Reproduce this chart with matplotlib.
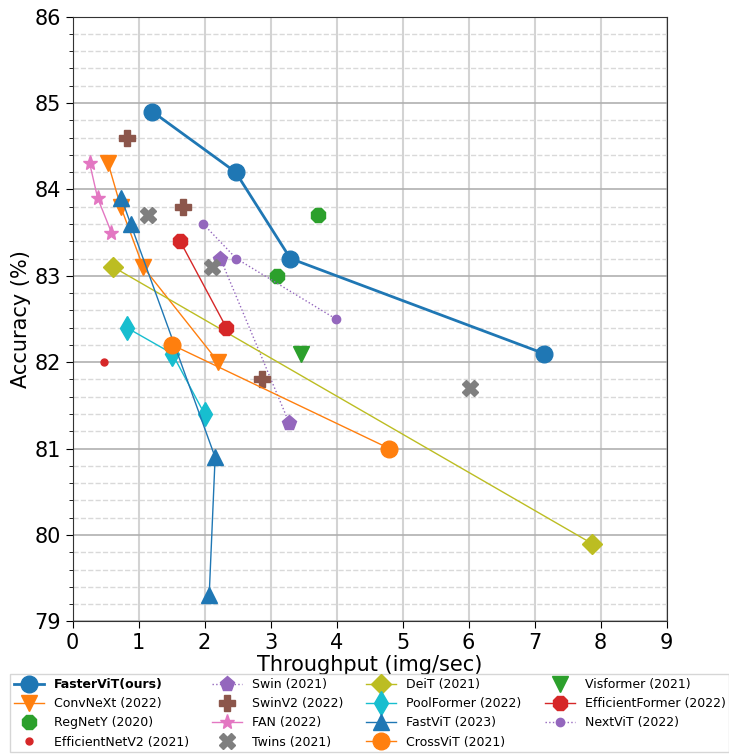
import matplotlib
matplotlib.use("Agg")
import matplotlib.pyplot as plt
from matplotlib.ticker import MultipleLocator

fastervit_x = [1.21, 2.47, 3.30, 7.14]
fastervit_y = [84.9, 84.2, 83.2, 82.1]
convnext_x = [0.54, 0.73, 1.07, 2.21]
convnext_y = [84.3, 83.8, 83.1, 82.0]
regnety_x = [3.72, 3.10]
regnety_y = [83.7, 83.0]
effnetv2_x = [0.47]
effnetv2_y = [82.0]
swin_x = [2.24, 3.28]
swin_y = [83.2, 81.3]
swinv2_x = [0.83, 1.68, 2.87]
swinv2_y = [84.6, 83.8, 81.8]
fan_x = [0.26, 0.38, 0.59]
fan_y = [84.3, 83.9, 83.5]
twins_x = [1.15, 2.12, 6.02]
twins_y = [83.7, 83.1, 81.7]
deit_x = [0.62, 7.87]
deit_y = [83.1, 79.9]
poolformer_x = [0.82, 1.51, 2.00]
poolformer_y = [82.4, 82.1, 81.4]
fastvit_x = [0.74, 0.88, 2.16, 2.07]
fastvit_y = [83.9, 83.6, 80.9, 79.3]
crossvit_x = [1.51, 4.80]
crossvit_y = [82.2, 81.0]
visformer_x = [3.46]
visformer_y = [82.1]
effformer_x = [1.63, 2.33]
effformer_y = [83.4, 82.4]
nextvit_x = [1.98, 2.48, 3.99]
nextvit_y = [83.6, 83.2, 82.5]

fig = plt.figure(figsize=(7.29, 7.55), dpi=100)
ax = fig.add_axes([0.0995, 0.177, 0.815, 0.801])

ax.plot(fastervit_x, fastervit_y, '-o', color='#1f77b4', lw=2, ms=12, label='FasterViT(ours)', zorder=5)
ax.plot(convnext_x, convnext_y, '-v', color='#ff7f0e', lw=1, ms=12, label='ConvNeXt (2022)')
ax.plot(regnety_x, regnety_y, '8', color='#2ca02c', ms=11, label='RegNetY (2020)', linestyle='none')
ax.plot(effnetv2_x, effnetv2_y, 'o', color='#d62728', ms=5, label='EfficientNetV2 (2021)', linestyle='none')
ax.plot(swin_x, swin_y, ':p', color='#9467bd', lw=1, ms=11, label='Swin (2021)')
ax.plot(swinv2_x, swinv2_y, 'P', color='#8c564b', ms=11, label='SwinV2 (2022)', linestyle='none')
ax.plot(fan_x, fan_y, '-*', color='#e377c2', lw=1, ms=11, label='FAN (2022)')
ax.plot(twins_x, twins_y, 'X', color='#7f7f7f', ms=11, label='Twins (2021)', linestyle='none')
ax.plot(deit_x, deit_y, '-D', color='#bcbd22', lw=1, ms=10, label='DeiT (2021)')
ax.plot(poolformer_x, poolformer_y, '-d', color='#17becf', lw=1, ms=12, label='PoolFormer (2022)')
ax.plot(fastvit_x, fastvit_y, '-^', color='#1f77b4', lw=1, ms=11, label='FastViT (2023)')
ax.plot(crossvit_x, crossvit_y, '-o', color='#ff7f0e', lw=1, ms=12, label='CrossViT (2021)')
ax.plot(visformer_x, visformer_y, 'v', color='#2ca02c', ms=12, label='Visformer (2021)', linestyle='none')
ax.plot(effformer_x, effformer_y, '-8', color='#d62728', lw=1, ms=11, label='EfficientFormer (2022)')
ax.plot(nextvit_x, nextvit_y, ':o', color='#9467bd', lw=1, ms=6, label='NextViT (2022)')

ax.set_xlim(0, 9)
ax.set_ylim(79, 86)
ax.xaxis.set_major_locator(MultipleLocator(1))
ax.yaxis.set_major_locator(MultipleLocator(1))
ax.yaxis.set_minor_locator(MultipleLocator(0.2))
ax.grid(True, axis='x', which='major', color='#d3d3d3', lw=1.5)
ax.grid(True, axis='y', which='major', color='#b0b0b0', lw=1.2)
ax.grid(True, axis='y', which='minor', color='#d9d9d9', lw=1, linestyle='--')
ax.set_axisbelow(True)
ax.tick_params(axis='both', which='major', labelsize=15, length=5)
ax.tick_params(axis='y', which='minor', length=3)
for s in ax.spines.values():
    s.set_color('#333333')
ax.set_xlabel('Throughput (img/sec)', fontsize=15, labelpad=1)
ax.set_ylabel('Accuracy (%)', fontsize=15, labelpad=2)

leg = ax.legend(loc='upper center', bbox_to_anchor=(0.5, -0.077), ncol=4,
                prop={'size': 9}, markerscale=1.0,
                frameon=True, fancybox=False, handletextpad=0.8, columnspacing=1.85,
                handlelength=2.4, labelspacing=0.5, borderpad=0.3)
leg.get_texts()[0].set_fontweight('bold')

fig.savefig('out.png', dpi=100)
